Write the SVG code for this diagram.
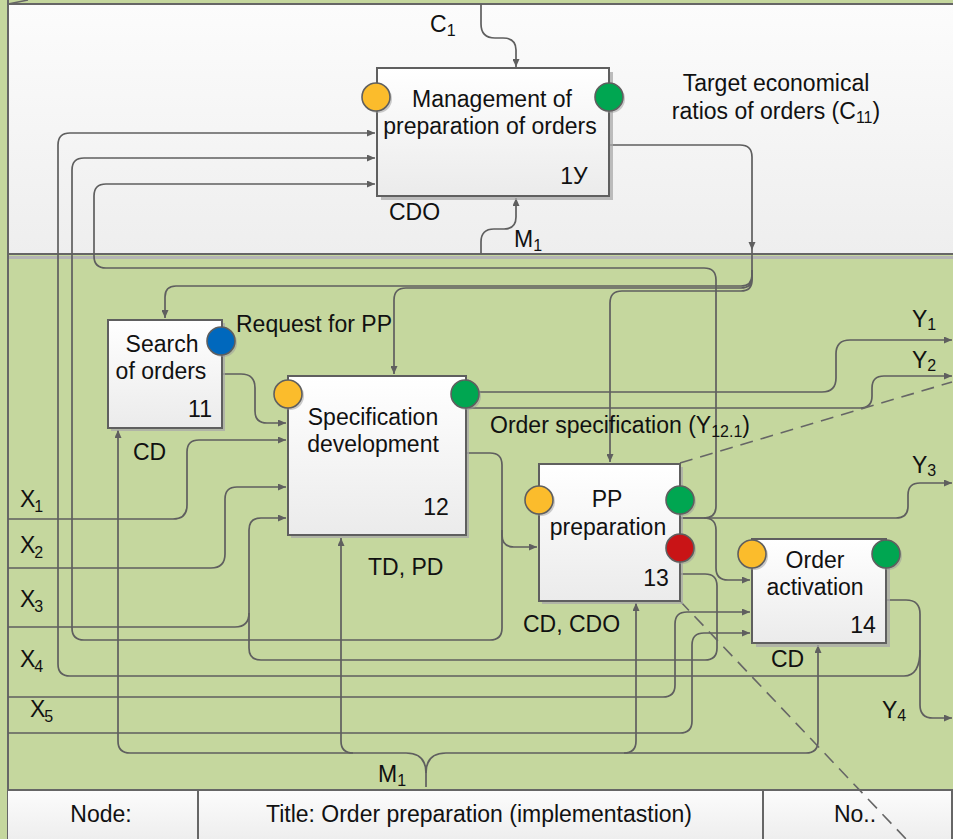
<svg xmlns="http://www.w3.org/2000/svg" width="953" height="839" viewBox="0 0 953 839">
  <defs>
    <linearGradient id="panelFill" x1="0" y1="0" x2="0" y2="1">
      <stop offset="0" stop-color="#fcfcfc"/>
      <stop offset="1" stop-color="#eeeeee"/>
    </linearGradient>
    <linearGradient id="boxFill" x1="0" y1="0" x2="0" y2="1">
      <stop offset="0" stop-color="#ffffff"/>
      <stop offset="1" stop-color="#ebebeb"/>
    </linearGradient>
    <marker id="arrow" viewBox="0 0 8 7" refX="8" refY="3.5" markerWidth="8" markerHeight="7" markerUnits="userSpaceOnUse" orient="auto">
      <path d="M0,0 L8,3.5 L0,7 z" fill="#5f5f5f"/>
    </marker>
    <style>
      .frame { fill: none; stroke: #666666; stroke-width: 2; }
      .box { fill: url(#boxFill); stroke: #5f5f5f; stroke-width: 2; }
      .shadow { fill: #a8a8a8; opacity: 0.75; }
      .wire { fill: none; stroke: #5f5f5f; stroke-width: 1.7; }
      .arr { marker-end: url(#arrow); }
      .dash { fill: none; stroke: #666666; stroke-width: 1.6; stroke-dasharray: 13 8; }
      .port { stroke: #5f5f5f; stroke-width: 1.6; }
      .portShadow { fill: #9a9a9a; opacity: 0.5; }
      text { font-family: "Liberation Sans", Arial, sans-serif; font-size: 23px; fill: #111111; }
      .mid { text-anchor: middle; }
      .sub { font-size: 16px; }
    </style>
  </defs>

  <!-- background -->
  <rect x="0" y="0" width="953" height="839" fill="#c5d79e"/>

  <!-- upper control panel -->
  <rect x="8" y="4" width="950" height="250" fill="url(#panelFill)"/>
  <line x1="8" y1="4" x2="953" y2="4" class="frame"/>
  <line x1="8" y1="4" x2="28" y2="0" stroke="#666" stroke-width="1.5"/>
  <line x1="8" y1="0" x2="8" y2="839" class="frame"/>
  <rect x="9" y="256" width="944" height="3" fill="#b4b4b4"/>
  <line x1="8" y1="254" x2="953" y2="254" class="frame"/>

  <!-- title bar -->
  <rect x="8" y="790" width="945" height="49" fill="url(#panelFill)"/>
  <line x1="8" y1="790" x2="953" y2="790" class="frame"/>
  <line x1="198" y1="790" x2="198" y2="839" class="frame"/>
  <line x1="763" y1="790" x2="763" y2="839" class="frame"/>
  <line x1="952" y1="790" x2="952" y2="839" class="frame"/>
  <text x="101" y="822" class="mid">Node:</text>
  <text x="479" y="822" class="mid">Title: Order preparation (implementastion)</text>
  <text x="855" y="822" class="mid">No..</text>

  <!-- connectors -->
  <g id="connectors">
    <!-- C1 control into node 1У -->
    <path class="wire arr" d="M481,4 V24 Q481,38 495,38 H503 Q516,38 516,50 V67"/>
    <!-- M1 mechanism into node 1У -->
    <path class="wire arr" d="M481,254 V242 Q481,229 494,229 H504 Q516,229 516,217 V198"/>
    <!-- control output of 1У to nodes 11, 12, 13 -->
    <path class="wire arr" d="M609,145 H740 Q752,145 752,157 V275 Q752,286 741,286 H176 Q165,286 165,297 V318"/>
    <path d="M748.5,242 L755.5,242 L752,250 z" fill="#5f5f5f"/>
    <path class="wire arr" d="M752,270 V277 Q752,288 741,288 H406 Q394,288 394,300 V374"/>
    <path class="wire arr" d="M752,270 V280 Q752,291 741,291 H622 Q610,291 610,303 V462"/>

    <!-- feedback inputs into node 1У -->
    <path class="wire arr" d="M920,650 Q920,676 904,676 H70 Q58,676 58,664 V145 Q58,133 70,133 H375"/>
    <path class="wire arr" d="M502,530 V628 Q502,640 490,640 H84 Q72,640 72,628 V170 Q72,158 84,158 H375"/>
    <path class="wire arr" d="M680,518 H704 Q716,518 716,506 V280 Q716,268 704,268 H106 Q94,268 94,256 V196 Q94,184 106,184 H375"/>

    <!-- node 11 output into node 12 -->
    <path class="wire arr" d="M222,374 H241 Q255,374 255,388 V411 Q255,423 267,423 H286"/>

    <!-- external inputs X1..X5 -->
    <path class="wire arr" d="M8,519 H173 Q187,519 187,505 V452 Q187,440 199,440 H286"/>
    <path class="wire arr" d="M8,568 H211 Q225,568 225,554 V499 Q225,487 237,487 H286"/>
    <path class="wire" d="M8,627 H235 Q249,627 249,613"/>
    <path class="wire arr" d="M8,697 H663 Q675,697 675,685 V624 Q675,612 687,612 H750"/>
    <path class="wire arr" d="M8,733 H680 Q692,733 692,721 V645 Q692,633 704,633 H750"/>

    <!-- node 12 outputs -->
    <path class="wire arr" d="M466,392 H822 Q836,392 836,378 V354 Q836,340 850,340 H952"/>
    <path class="wire arr" d="M466,408 H860 Q872,408 872,396 V388 Q872,376 884,376 H952"/>
    <path class="wire arr" d="M466,453 H490 Q502,453 502,465 V535 Q502,547 514,547 H537"/>

    <!-- node 13 outputs -->
    <path class="wire arr" d="M680,518 H896 Q908,518 908,506 V495 Q908,483 920,483 H952"/>
    <path class="wire arr" d="M704,518 Q716,518 716,530 V568 Q716,580 728,580 H750"/>
    <path class="wire arr" d="M681,574 H705 Q717,574 717,586 V648 Q717,660 705,660 H261 Q249,660 249,648 V530 Q249,518 261,518 H286"/>

    <!-- node 14 output Y4 -->
    <path class="wire arr" d="M886,600 H906 Q920,600 920,614 V705 Q920,718 933,718 H952"/>

    <!-- M1 mechanism bracket -->
    <path class="wire arr" d="M426,787 V773 Q426,753 406,753 H130 Q118,753 118,741 V430"/>
    <path class="wire arr" d="M353,753 Q341,753 341,741 V538"/>
    <path class="wire arr" d="M426,773 Q426,753 446,753 H806 Q818,753 818,741 V645"/>
    <path class="wire arr" d="M624,753 Q636,753 636,741 V603"/>

    <!-- dashed decomposition lines -->
    <path class="dash" d="M680,463 L952,382"/>
    <path class="dash" d="M680,601 L906,839"/>
  </g>

  <!-- node 1У -->
  <g id="node-1U">
    <rect x="381" y="72" width="232" height="128" class="shadow"/>
    <rect x="377" y="68" width="232" height="128" class="box"/>
    <text x="492" y="107" class="mid">Management of</text>
    <text x="490" y="134" class="mid">preparation of orders</text>
    <text x="574" y="184" class="mid">1У</text>
    <circle cx="378" cy="99" r="14" class="portShadow"/>
    <circle cx="376" cy="97" r="14" fill="#fbbc2c" class="port"/>
    <circle cx="611" cy="99" r="14" class="portShadow"/>
    <circle cx="609" cy="97" r="14" fill="#00a651" class="port"/>
  </g>

  <!-- node 11 -->
  <g id="node-11">
    <rect x="111" y="323" width="114" height="108" class="shadow"/>
    <rect x="108" y="320" width="114" height="108" class="box"/>
    <text x="162" y="352" class="mid">Search</text>
    <text x="161" y="379" class="mid">of orders</text>
    <text x="200" y="417" class="mid">11</text>
    <circle cx="223" cy="343" r="14" class="portShadow"/>
    <circle cx="221" cy="341" r="14" fill="#0068bd" class="port"/>
  </g>

  <!-- node 12 -->
  <g id="node-12">
    <rect x="291" y="379" width="178" height="159" class="shadow"/>
    <rect x="288" y="376" width="178" height="159" class="box"/>
    <text x="373" y="425" class="mid">Specification</text>
    <text x="373" y="452" class="mid">development</text>
    <text x="436" y="515" class="mid">12</text>
    <circle cx="290" cy="396" r="14" class="portShadow"/>
    <circle cx="288" cy="394" r="14" fill="#fbbc2c" class="port"/>
    <circle cx="467" cy="396" r="14" class="portShadow"/>
    <circle cx="465" cy="394" r="14" fill="#00a651" class="port"/>
  </g>

  <!-- node 13 -->
  <g id="node-13">
    <rect x="542" y="467" width="141" height="137" class="shadow"/>
    <rect x="539" y="464" width="141" height="137" class="box"/>
    <text x="607" y="507" class="mid">PP</text>
    <text x="608" y="535" class="mid">preparation</text>
    <text x="656" y="586" class="mid">13</text>
    <circle cx="541" cy="502" r="14" class="portShadow"/>
    <circle cx="539" cy="500" r="14" fill="#fbbc2c" class="port"/>
    <circle cx="682" cy="502" r="14" class="portShadow"/>
    <circle cx="680" cy="500" r="14" fill="#00a651" class="port"/>
    <circle cx="682" cy="550" r="14" class="portShadow"/>
    <circle cx="680" cy="548" r="14" fill="#c91416" class="port"/>
  </g>

  <!-- node 14 -->
  <g id="node-14">
    <rect x="756" y="543" width="134" height="104" class="shadow"/>
    <rect x="752" y="539" width="134" height="104" class="box"/>
    <text x="815" y="568" class="mid">Order</text>
    <text x="815" y="595" class="mid">activation</text>
    <text x="863" y="633" class="mid">14</text>
    <circle cx="754" cy="556" r="14" class="portShadow"/>
    <circle cx="752" cy="554" r="14" fill="#fbbc2c" class="port"/>
    <circle cx="888" cy="556" r="14" class="portShadow"/>
    <circle cx="886" cy="554" r="14" fill="#00a651" class="port"/>
  </g>

  <!-- labels -->
  <g id="labels">
    <text x="430" y="32">C<tspan class="sub" dy="4">1</tspan></text>
    <text x="514" y="247">M<tspan class="sub" dy="4">1</tspan></text>
    <text x="389" y="220">CDO</text>
    <text x="776" y="91" class="mid">Target economical</text>
    <text x="776" y="119" class="mid">ratios of orders (C<tspan class="sub" dy="4">11</tspan><tspan dy="-4">)</tspan></text>
    <text x="236" y="332">Request for PP</text>
    <text x="133" y="460">CD</text>
    <text x="368" y="575">TD, PD</text>
    <text x="490" y="433">Order specification (Y<tspan class="sub" dy="4">12.1</tspan><tspan dy="-4">)</tspan></text>
    <text x="523" y="632">CD, CDO</text>
    <text x="771" y="667">CD</text>
    <text x="378" y="782">M<tspan class="sub" dy="4">1</tspan></text>
    <text x="912" y="327">Y<tspan class="sub" dy="3">1</tspan></text>
    <text x="912" y="368">Y<tspan class="sub" dy="3">2</tspan></text>
    <text x="912" y="473">Y<tspan class="sub" dy="3">3</tspan></text>
    <text x="882" y="718">Y<tspan class="sub" dy="3">4</tspan></text>
    <text x="20" y="507">X<tspan class="sub" dx="-1" dy="5">1</tspan></text>
    <text x="20" y="553">X<tspan class="sub" dx="-1" dy="5">2</tspan></text>
    <text x="20" y="607">X<tspan class="sub" dx="-1" dy="5">3</tspan></text>
    <text x="20" y="667">X<tspan class="sub" dx="-1" dy="5">4</tspan></text>
    <text x="30" y="717">X<tspan class="sub" dx="-1" dy="5">5</tspan></text>
  </g>
</svg>
